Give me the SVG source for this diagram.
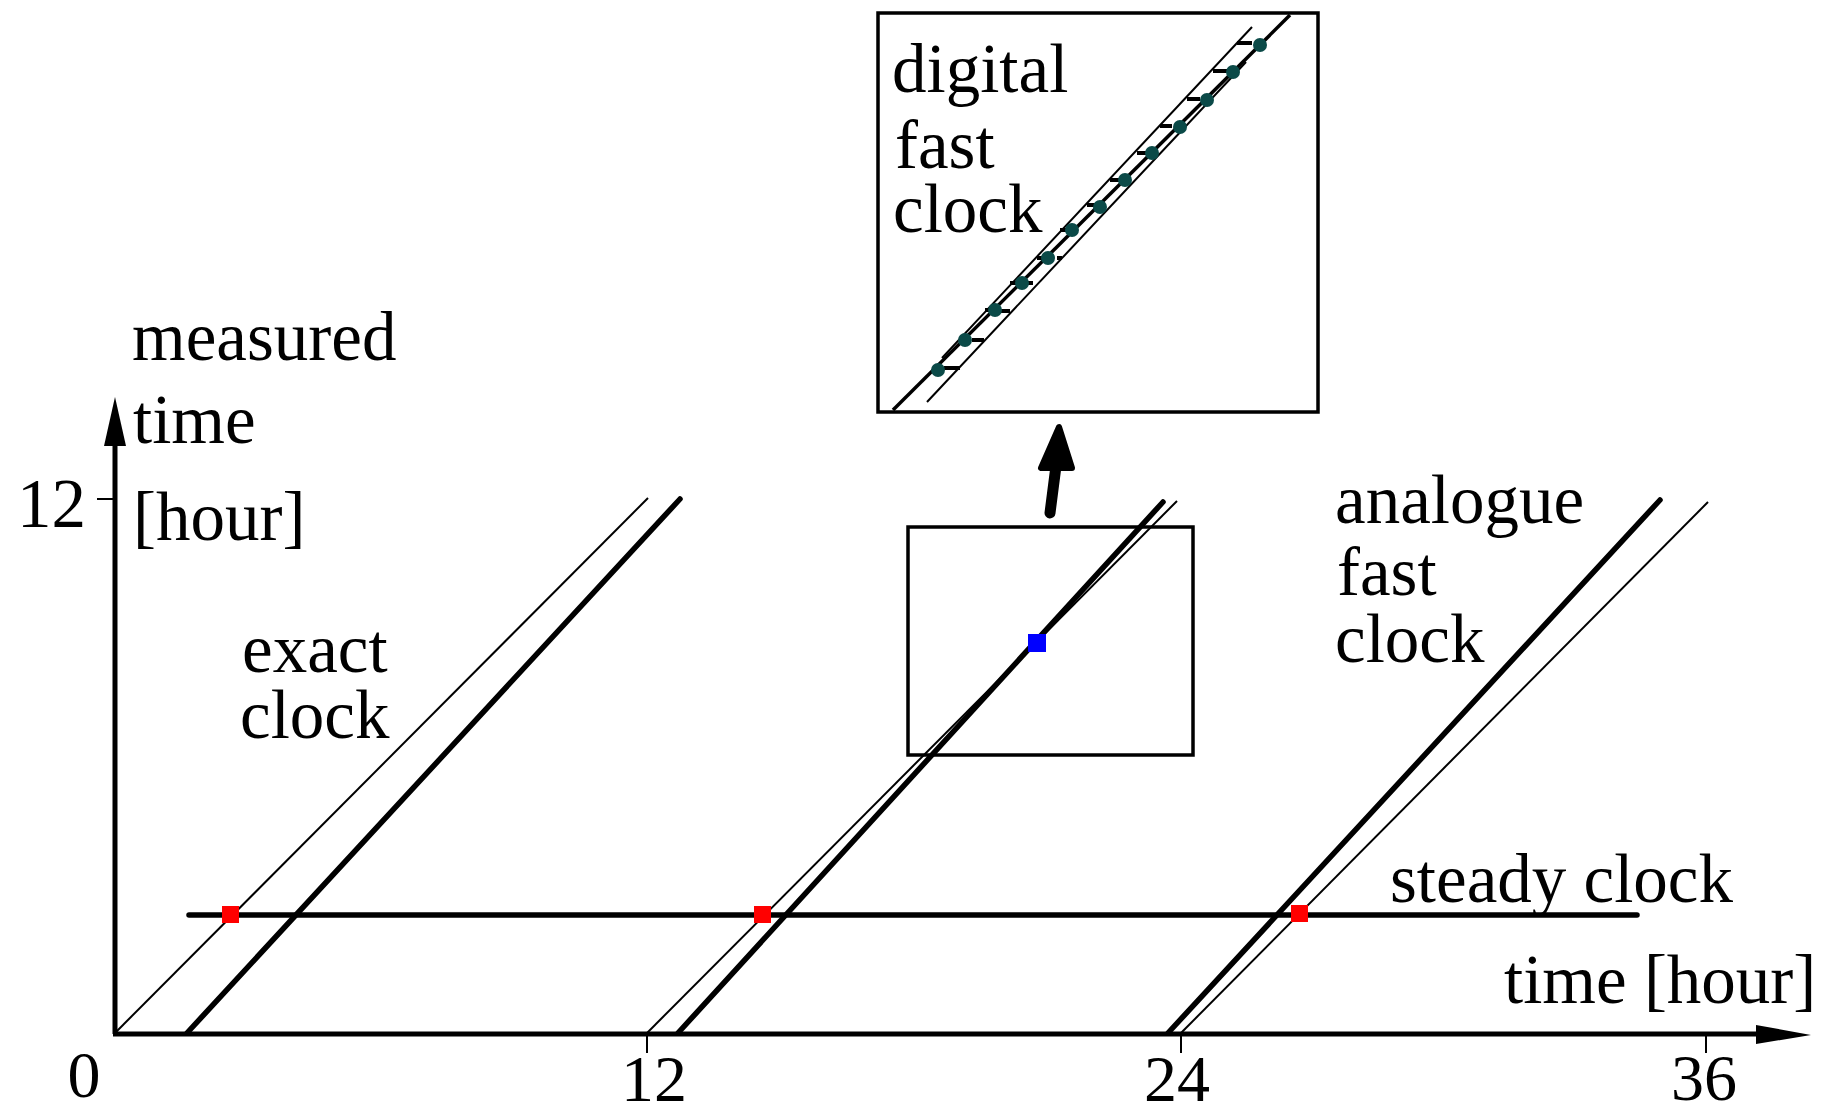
<svg xmlns="http://www.w3.org/2000/svg" width="1834" height="1108" viewBox="0 0 1834 1108">
  <style>
    .lbl { font-family: "Liberation Serif", "Times New Roman", serif; font-size: 69px; fill: #000; }
    .num { font-family: "Liberation Serif", "Times New Roman", serif; font-size: 66px; fill: #000; }
    .thin { stroke: #000; stroke-width: 2; fill: none; }
    .thick { stroke: #000; stroke-width: 5.5; fill: none; stroke-linecap: round; }
    .axis { stroke: #000; stroke-width: 5; fill: none; }
    .tick { stroke: #000; stroke-width: 2; }
    .box { fill: none; stroke: #000; stroke-width: 3.5; }
    .red { fill: #ff0000; }
    .dot { fill: #0b4a48; }
    .dash { stroke: #000; stroke-width: 4; stroke-linecap: butt; }
  </style>
  <rect width="1834" height="1108" fill="#fff"/>

  <g id="axes">
    <line class="axis" x1="115" y1="1034" x2="115" y2="440"/>
    <polygon points="115,397 104,446 126,446" fill="#000"/>
    <line class="axis" x1="113" y1="1034" x2="1765" y2="1034"/>
    <polygon points="1811,1035 1756,1025 1756,1044" fill="#000"/>
    <line class="tick" x1="97" y1="499" x2="115" y2="499"/>
    <line class="tick" x1="647" y1="1034" x2="647" y2="1053"/>
    <line class="tick" x1="1181" y1="1034" x2="1181" y2="1053"/>
    <line class="tick" x1="1706" y1="1034" x2="1706" y2="1053"/>
    <text class="lbl" x="17" y="527">12</text>
    <text class="num" x="84" y="1097" text-anchor="middle">0</text>
    <text class="num" x="654" y="1101" text-anchor="middle">12</text>
    <text class="num" x="1177" y="1101" text-anchor="middle">24</text>
    <text class="num" x="1704" y="1100" text-anchor="middle">36</text>
    <text class="lbl" x="132" y="360">measured</text>
    <text class="lbl" x="133" y="443">time</text>
    <text class="lbl" x="133" y="540">[hour]</text>
    <text class="lbl" x="1504" y="1003">time [hour]</text>
  </g>

  <g id="exact-clock">
    <line class="thin" x1="115" y1="1033" x2="648" y2="498"/>
    <line class="thick" x1="187" y1="1033" x2="680" y2="499"/>
    <text class="lbl" x="242" y="672">exact</text>
    <text class="lbl" x="240" y="738">clock</text>
  </g>

  <g id="digital-clock-lines">
    <line class="thin" x1="647" y1="1033" x2="1177" y2="501"/>
    <line class="thick" x1="678" y1="1033" x2="1163" y2="502"/>
  </g>

  <g id="analogue-fast-clock">
    <line class="thin" x1="1181" y1="1033" x2="1708" y2="502"/>
    <line class="thick" x1="1168" y1="1033" x2="1660" y2="500"/>
    <text class="lbl" x="1335" y="523">analogue</text>
    <text class="lbl" x="1337" y="595">fast</text>
    <text class="lbl" x="1335" y="662">clock</text>
  </g>

  <g id="steady-clock">
    <line class="thick" x1="189" y1="915" x2="1637" y2="915"/>
    <text class="lbl" x="1390" y="902">steady clock</text>
    <rect class="red" x="222" y="906" width="17" height="17"/>
    <rect class="red" x="754" y="906" width="17" height="17"/>
    <rect class="red" x="1291" y="905" width="17" height="17"/>
  </g>

  <g id="zoom-box">
    <rect class="box" x="908" y="527" width="285" height="228"/>
    <rect x="1028" y="634" width="18" height="18" fill="#0000ff"/>
  </g>

  <g id="inset">
    <rect class="box" x="878" y="13" width="440" height="399"/>
    <line x1="893" y1="410" x2="1290" y2="15" stroke="#000" stroke-width="3.5"/>
    <line class="thin" x1="927" y1="402" x2="1246" y2="62" stroke-width="1.5"/>
    <line class="thin" x1="942" y1="358" x2="1252" y2="27" stroke-width="1.5"/>
    <g id="steps">
      <line class="dash" x1="944" y1="368" x2="960" y2="368"/>
      <line class="dash" x1="972" y1="340" x2="984" y2="340"/>
      <line class="dash" x1="985" y1="310" x2="991" y2="310"/>
      <line class="dash" x1="1001" y1="311" x2="1010" y2="311"/>
      <line class="dash" x1="1010" y1="283" x2="1017" y2="283"/>
      <line class="dash" x1="1028" y1="283" x2="1033" y2="283"/>
      <line class="dash" x1="1037" y1="258" x2="1043" y2="258"/>
      <line class="dash" x1="1057" y1="258" x2="1062" y2="258"/>
      <line class="dash" x1="1060" y1="230" x2="1068" y2="230"/>
      <line class="dash" x1="1087" y1="205" x2="1095" y2="205"/>
      <line class="dash" x1="1110" y1="180" x2="1120" y2="180"/>
      <line class="dash" x1="1137" y1="153" x2="1147" y2="153"/>
      <line class="dash" x1="1160" y1="126" x2="1172" y2="126"/>
      <line class="dash" x1="1187" y1="99" x2="1200" y2="99"/>
      <line class="dash" x1="1213" y1="71" x2="1227" y2="71"/>
      <line class="dash" x1="1237" y1="43" x2="1252" y2="43"/>
    </g>
    <g id="ticks-dots">
      <circle class="dot" cx="938" cy="370" r="7"/>
      <circle class="dot" cx="965" cy="340" r="7"/>
      <circle class="dot" cx="995" cy="310" r="7"/>
      <circle class="dot" cx="1022" cy="283" r="7"/>
      <circle class="dot" cx="1048" cy="258" r="7"/>
      <circle class="dot" cx="1072" cy="230" r="7"/>
      <circle class="dot" cx="1100" cy="207" r="7"/>
      <circle class="dot" cx="1125" cy="180" r="7"/>
      <circle class="dot" cx="1152" cy="153" r="7"/>
      <circle class="dot" cx="1180" cy="127" r="7"/>
      <circle class="dot" cx="1207" cy="100" r="7"/>
      <circle class="dot" cx="1233" cy="72" r="7"/>
      <circle class="dot" cx="1260" cy="45" r="7"/>
    </g>
    <text class="lbl" x="892" y="92">digital</text>
    <text class="lbl" x="895" y="168">fast</text>
    <text class="lbl" x="893" y="232">clock</text>
  </g>

  <g id="connectors">
    <line x1="1050" y1="513" x2="1056" y2="466" stroke="#000" stroke-width="11" stroke-linecap="round"/>
    <polygon points="1059,427 1041,468 1072,468" fill="#000" stroke="#000" stroke-width="6" stroke-linejoin="round"/>
  </g>
</svg>
